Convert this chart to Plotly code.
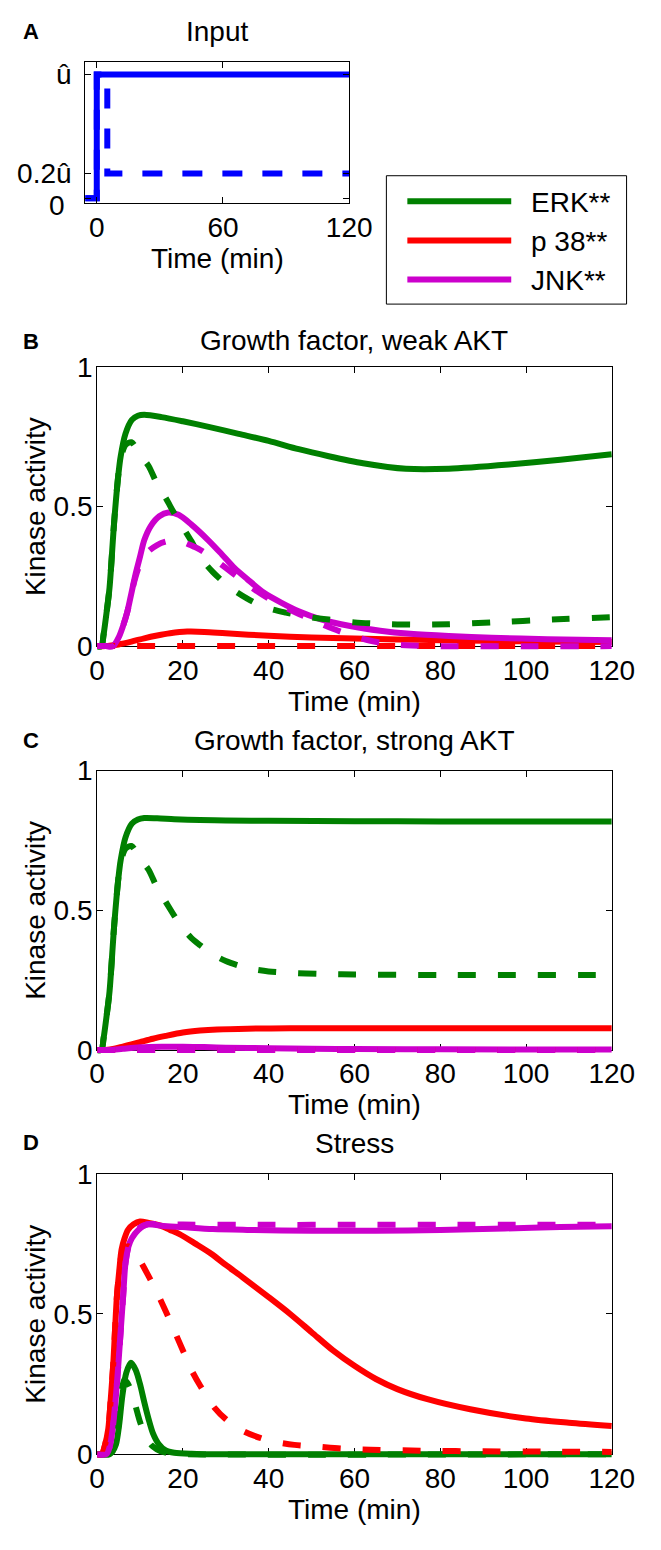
import plotly.graph_objects as go

W, H = 661, 1550

GREEN = "#008000"
RED = "#ff0000"
MAGENTA = "#cc00cc"
BLUE = "#0000ff"
FONT = "Liberation Sans, Arial, Helvetica, sans-serif"

# ---- A: input profiles ----
a_time_step = [-5.5, 0, 0, 120]
a_input_step = [0, 0, 1, 1]
a_time_pulse = [-5.5, 0, 0, 5, 5, 120]
a_input_pulse = [0, 0, 1, 1, 0.2, 0.2]

# ---- B: growth factor, weak AKT ----
b_erk_t = [0, 1, 1.5, 2.2, 2.9, 4, 5, 5.5, 6.6, 8.1, 9.5, 11, 15, 20, 26, 33, 40, 47, 54, 62, 72, 82, 96, 108, 120]
b_erk = [0, 0, 0.04, 0.12, 0.21, 0.45, 0.62, 0.68, 0.76, 0.81, 0.825, 0.828, 0.82, 0.805, 0.785, 0.76, 0.735,
         0.705, 0.68, 0.655, 0.635, 0.635, 0.65, 0.667, 0.687]
b_erk_d_t = [0, 1, 1.5, 2.2, 2.9, 4, 5, 5.5, 6.6, 8, 10, 12, 14, 16, 18, 20, 22, 24, 27, 31, 35, 39, 44, 49, 54,
             60, 66, 73, 82, 92, 106, 120]
b_erk_d = [0, 0, 0.04, 0.12, 0.21, 0.45, 0.62, 0.67, 0.72, 0.73, 0.685, 0.645, 0.58, 0.53, 0.475, 0.425, 0.375,
           0.32, 0.265, 0.21, 0.17, 0.14, 0.12, 0.105, 0.095, 0.085, 0.08, 0.077, 0.078, 0.085, 0.095, 0.104]
b_p38_t = [0, 2, 5, 8, 11, 14, 17, 21, 25, 30, 40, 50, 60, 70, 80, 90, 100, 110, 120]
b_p38 = [0, 0, 0.006, 0.016, 0.028, 0.038, 0.046, 0.052, 0.051, 0.046, 0.037, 0.031, 0.027, 0.024, 0.021, 0.019,
         0.017, 0.016, 0.015]
b_p38_d_t = [0, 120]
b_p38_d = [0, 0]
b_jnk_t = [0, 2, 3.7, 5, 6, 7, 8, 9, 10, 11, 12.5, 14.5, 16.6, 19, 22, 26, 29, 32, 35, 39, 43, 47, 52, 59, 66, 73,
           82, 92, 105, 120]
b_jnk = [0, 0, 0, 0.03, 0.07, 0.12, 0.19, 0.26, 0.32, 0.38, 0.43, 0.465, 0.478, 0.47, 0.435, 0.378, 0.33, 0.28,
         0.24, 0.19, 0.155, 0.125, 0.097, 0.072, 0.055, 0.044, 0.036, 0.03, 0.025, 0.021]
b_jnk_d_t = [0, 2, 3.7, 5, 6, 7, 8, 9, 10.3, 12, 14, 16, 18, 20, 22, 24, 27, 30, 33, 36, 40, 45, 50, 55, 59, 63,
             67, 72, 80, 120]
b_jnk_d = [0, 0, 0, 0.03, 0.07, 0.12, 0.19, 0.25, 0.305, 0.34, 0.362, 0.374, 0.378, 0.373, 0.36, 0.345, 0.315,
           0.28, 0.245, 0.21, 0.17, 0.13, 0.095, 0.062, 0.04, 0.022, 0.01, 0.003, 0, 0]

# ---- C: growth factor, strong AKT ----
c_erk_t = [0, 1, 1.5, 2.2, 2.9, 4, 5, 5.5, 6.6, 8.1, 9.5, 11, 14, 18, 24, 30, 40, 60, 80, 100, 120]
c_erk = [0, 0, 0.04, 0.12, 0.21, 0.45, 0.62, 0.68, 0.76, 0.81, 0.825, 0.83, 0.829, 0.826, 0.823, 0.821, 0.82,
         0.819, 0.818, 0.818, 0.818]
c_erk_d_t = [0, 1, 1.5, 2.2, 2.9, 4, 5, 5.5, 6.6, 8, 10, 12, 14, 16, 18, 20, 22, 24, 26, 28, 30, 33, 36, 40, 45,
             52, 60, 80, 120]
c_erk_d = [0, 0, 0.04, 0.12, 0.21, 0.45, 0.62, 0.67, 0.72, 0.73, 0.685, 0.645, 0.58, 0.53, 0.48, 0.435, 0.4,
           0.375, 0.352, 0.333, 0.318, 0.302, 0.29, 0.281, 0.276, 0.272, 0.27, 0.268, 0.268]
c_p38_t = [0, 2, 4, 6, 8, 10, 13, 16, 20, 24, 28, 35, 45, 60, 120]
c_p38 = [0, 0, 0.004, 0.012, 0.02, 0.028, 0.04, 0.05, 0.062, 0.069, 0.073, 0.076, 0.077, 0.077, 0.077]
c_p38_d_t = [0, 120]
c_p38_d = [0, 0]
c_jnk_t = [0, 3, 6, 10, 15, 20, 25, 30, 40, 50, 60, 80, 120]
c_jnk = [0, 0, 0.004, 0.009, 0.011, 0.011, 0.01, 0.008, 0.006, 0.004, 0.003, 0.002, 0.001]
c_jnk_d_t = [0, 120]
c_jnk_d = [0, 0]

# ---- D: stress ----
d_erk_t = [0, 2.9, 3.6, 4.4, 5.1, 5.9, 6.8, 7.9, 9, 10, 11, 12, 13, 14.4, 16, 18, 22, 25, 120]
d_erk = [0, 0, 0.01, 0.035, 0.1, 0.21, 0.29, 0.326, 0.3, 0.25, 0.185, 0.125, 0.075, 0.035, 0.013, 0.005, 0.001,
         0, 0]
d_erk_d_t = [0, 2.9, 3.6, 4.4, 5.1, 5.7, 6.3, 7, 8, 9, 10, 11, 12, 13, 14.8, 17, 20, 120]
d_erk_d = [0, 0, 0.01, 0.04, 0.12, 0.22, 0.265, 0.255, 0.225, 0.17, 0.115, 0.075, 0.045, 0.027, 0.01, 0.003, 0, 0]
d_p38_t = [0, 1.1, 1.8, 2.6, 3.2, 3.8, 4.2, 4.6, 5.2, 5.7, 6.4, 7.2, 8.5, 10, 12, 14.8, 17, 19.2, 23, 26.6, 30,
           34, 40, 45, 50, 55, 60, 65, 70, 77, 87, 100, 110, 120]
d_p38 = [0, 0, 0.03, 0.09, 0.2, 0.33, 0.45, 0.56, 0.66, 0.73, 0.77, 0.8, 0.82, 0.83, 0.825, 0.815, 0.8, 0.785,
         0.75, 0.715, 0.675, 0.63, 0.56, 0.5, 0.435, 0.37, 0.315, 0.268, 0.232, 0.196, 0.16, 0.127, 0.112, 0.1]
d_p38_d_t = [0, 1.1, 1.8, 2.6, 3.2, 3.8, 4.2, 4.6, 5.2, 5.7, 6.4, 7.2, 8.2, 10, 12, 14, 16, 18, 20, 22, 24, 27.4,
             30, 34, 38, 41.4, 46, 51.8, 57, 63.7, 77, 90, 105, 120]
d_p38_d = [0, 0, 0.03, 0.09, 0.2, 0.33, 0.45, 0.56, 0.66, 0.71, 0.735, 0.742, 0.73, 0.69, 0.635, 0.575, 0.51,
           0.44, 0.37, 0.3, 0.245, 0.165, 0.125, 0.083, 0.058, 0.044, 0.033, 0.026, 0.02, 0.016, 0.012, 0.01,
           0.009, 0.008]
d_jnk_t = [0, 2.2, 3, 3.7, 4.4, 5, 5.5, 6.1, 6.6, 7.3, 8.1, 9.6, 11.8, 15, 20, 27, 35, 50, 65, 80, 95, 108, 120]
d_jnk = [0, 0, 0.03, 0.1, 0.21, 0.33, 0.44, 0.57, 0.68, 0.74, 0.77, 0.8, 0.82, 0.815, 0.81, 0.803, 0.8, 0.797,
         0.797, 0.8, 0.805, 0.81, 0.813]
d_jnk_d_t = [0, 2.2, 3, 3.7, 4.4, 5, 5.5, 6.1, 6.6, 7.3, 8.1, 9.6, 11.8, 15, 20, 40, 60, 80, 100, 120]
d_jnk_d = [0, 0, 0.03, 0.1, 0.21, 0.33, 0.44, 0.57, 0.68, 0.74, 0.775, 0.805, 0.82, 0.82, 0.819, 0.818, 0.818,
           0.818, 0.818, 0.818]

time_ticks = [0, 20, 40, 60, 80, 100, 120]
activity_ticks = [0, 0.5, 1]
activity_ticktext = ["0", "0.5", "1"]
input_time_ticks = [0, 60, 120]
input_ticks = [0, 0.2, 1]
input_ticktext = ["", "0.2û", "û"]  # the "0" label sits a little lower, added as text below

legend_names = ["ERK**", "p 38**", "JNK**"]
legend_colors = [GREEN, RED, MAGENTA]


def xf(px):
    return px / W


def yf(py):
    return 1 - py / H


def ax_key(kind, n):
    return kind + ("axis" if n == 1 else f"axis{n}")


def ref(kind, n):
    return kind if n == 1 else f"{kind}{n}"


fig = go.Figure()

tick_font = dict(family=FONT, size=28, color="black")


def frame_axes(n, box, xr, yr, xt, yt, ytt, y_standoff):
    l, r, t, b = box
    common = dict(ticks="inside", ticklen=6, tickwidth=1, tickcolor="black", showline=True, mirror="ticks",
                  linecolor="black", linewidth=1, showgrid=False, zeroline=False, tickfont=tick_font,
                  fixedrange=True)
    fig.layout[ax_key("x", n)] = dict(domain=[xf(l), xf(r)], range=xr, anchor=ref("y", n), tickvals=xt,
                                      ticklabelstandoff=-1, **common)
    fig.layout[ax_key("y", n)] = dict(domain=[yf(b), yf(t)], range=yr, anchor=ref("x", n), tickvals=yt,
                                      ticktext=ytt, ticklabelstandoff=y_standoff, **common)
    # empty trace so that the frame subplot is drawn
    fig.add_trace(go.Scatter(x=[None], y=[None], mode="lines", showlegend=False, hoverinfo="skip",
                             xaxis=ref("x", n), yaxis=ref("y", n)))


PAD = 10  # px of room below zero so lines on the baseline are not clipped


def data_axes(n, box):
    l, r, t, b = box
    fig.layout[ax_key("x", n)] = dict(domain=[xf(l), xf(r)], range=[0, 120], anchor=ref("y", n), visible=False,
                                      fixedrange=True)
    fig.layout[ax_key("y", n)] = dict(domain=[yf(b + PAD), yf(t)], range=[-PAD / (b - t), 1],
                                      anchor=ref("x", n), visible=False, fixedrange=True)


def add_line(t, v, color, n, dash="solid", width=6, shape="spline"):
    fig.add_trace(go.Scatter(x=t, y=v, mode="lines", showlegend=False, hoverinfo="skip",
                             line=dict(color=color, width=width, dash=dash, shape=shape, smoothing=0.8),
                             xaxis=ref("x", n), yaxis=ref("y", n)))


def add_text(text, x, y, size=28, bold=False, angle=0, xanchor="center"):
    fig.add_annotation(text=f"<b>{text}</b>" if bold else text, x=xf(x), y=yf(y), xref="paper", yref="paper",
                       showarrow=False, textangle=angle, xanchor=xanchor, yanchor="middle",
                       font=dict(family=FONT, size=size, color="black"))


# ---- panel A ----
box_a = (81, 358, 48, 192)
frame_axes(1, box_a, [-5.5, 120], [-0.04, 1.1], input_time_ticks, input_ticks, input_ticktext, 7)
add_line(a_time_step, a_input_step, BLUE, 1, width=6, shape="linear")
add_line(a_time_pulse, a_input_pulse, BLUE, 1, dash="20px,20px", width=6, shape="linear")
add_text("A", 24.5, 17, size=22, bold=True)
add_text("Input", 219.5, 17)
add_text("Time (min)", 219.5, 248)
add_text("0", 62, 194, xanchor="right")

DASH = "18px,22px"
panels = [
    ("B", "Growth factor, weak AKT", (93.5, 633.5, 359, 644), 2,
     [(b_erk_t, b_erk, GREEN, "solid"), (b_p38_t, b_p38, RED, "solid"), (b_jnk_t, b_jnk, MAGENTA, "solid"),
      (b_erk_d_t, b_erk_d, GREEN, DASH), (b_p38_d_t, b_p38_d, RED, DASH), (b_jnk_d_t, b_jnk_d, MAGENTA, DASH)],
     333, 332),
    ("C", "Growth factor, strong AKT", (93.5, 633.5, 771, 1056), 4,
     [(c_erk_t, c_erk, GREEN, "solid"), (c_p38_t, c_p38, RED, "solid"), (c_jnk_t, c_jnk, MAGENTA, "solid"),
      (c_erk_d_t, c_erk_d, GREEN, DASH), (c_p38_d_t, c_p38_d, RED, DASH), (c_jnk_d_t, c_jnk_d, MAGENTA, DASH)],
     740, 740),
    ("D", "Stress", (93.5, 633.5, 1182.5, 1468.5), 6,
     [(d_erk_t, d_erk, GREEN, "solid"), (d_p38_t, d_p38, RED, "solid"), (d_jnk_t, d_jnk, MAGENTA, "solid"),
      (d_erk_d_t, d_erk_d, GREEN, DASH), (d_p38_d_t, d_p38_d, RED, DASH), (d_jnk_d_t, d_jnk_d, MAGENTA, DASH)],
     1151, 1152),
]

for letter, title, box, n, series, letter_y, title_y in panels:
    l, r, t, b = box
    frame_axes(n, box, [0, 120], [0, 1], time_ticks, activity_ticks, activity_ticktext, -2)
    data_axes(n + 1, box)
    for tt, vv, color, dash in series:
        add_line(tt, vv, color, n + 1, dash=dash)
    add_text(letter, 24.5, letter_y, size=22, bold=True)
    add_text(title, (l + r) / 2, title_y)
    add_text("Time (min)", (l + r) / 2, b + 56)
    add_text("Kinase activity", 29, (t + b) / 2, angle=-90)

# ---- legend box ----
fig.add_shape(type="rect", xref="paper", yref="paper", x0=xf(397), x1=xf(649), y0=yf(295), y1=yf(164),
              line=dict(color="black", width=1), fillcolor="white")
for i, (name, color) in enumerate(zip(legend_names, legend_colors)):
    ly = 190 + 40 * i
    fig.add_shape(type="line", xref="paper", yref="paper", x0=xf(419), x1=xf(528), y0=yf(ly), y1=yf(ly),
                  line=dict(color=color, width=6))
    add_text(name, 547, ly + 1, xanchor="left")

fig.update_layout(width=W, height=H, autosize=False, margin=dict(l=0, r=0, t=0, b=0),
                  paper_bgcolor="white", plot_bgcolor="rgba(0,0,0,0)", showlegend=False)

fig.write_html("out.html", config={"displayModeBar": False},
               post_script="document.body.style.margin = '0';")
